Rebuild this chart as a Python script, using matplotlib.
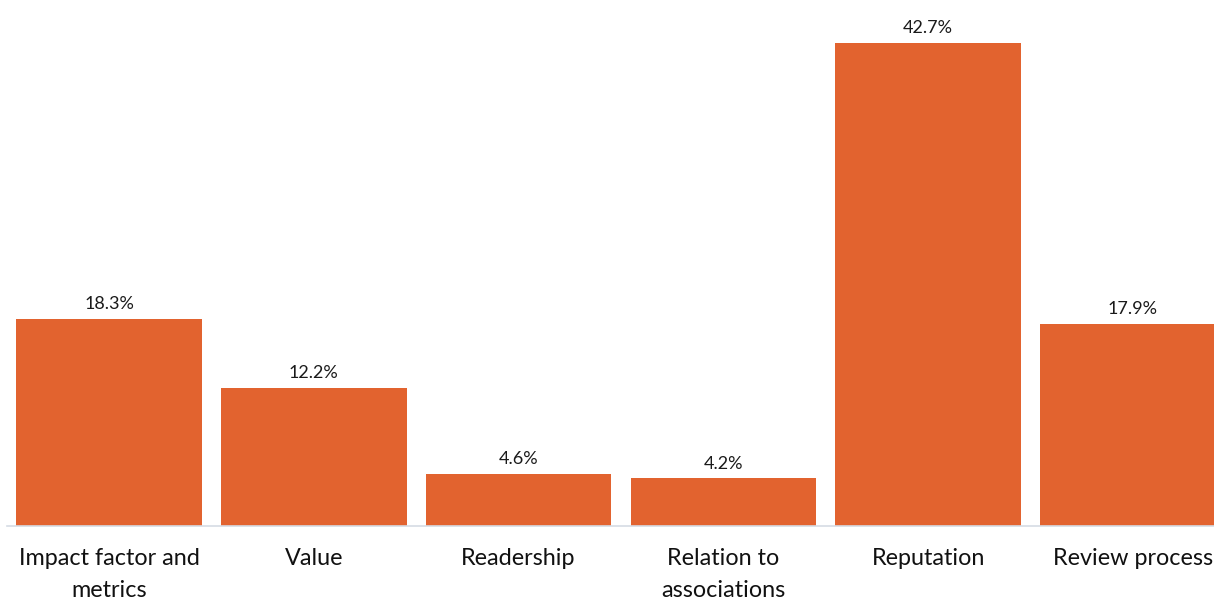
import matplotlib
matplotlib.use("Agg")
import matplotlib.pyplot as plt

categories = ["Impact factor and\nmetrics", "Value", "Readership",
              "Relation to\nassociations", "Reputation", "Review process"]
shares = [18.3, 12.2, 4.6, 4.2, 42.7, 17.9]
value_labels = ["18.3%", "12.2%", "4.6%", "4.2%", "42.7%", "17.9%"]

plt.rcParams["font.family"] = ["Lato", "DejaVu Sans"]

fig = plt.figure(figsize=(12.14, 5.99), dpi=100)
# plot area runs a little past the right edge so the last bar is cut off
ax = fig.add_axes([6.6 / 1214, 73 / 599, 1228.8 / 1214, 526 / 599])

x = list(range(len(categories)))
bars = ax.bar(x, shares, width=0.907, color="#E2632F", zorder=2)

ax.set_xlim(-0.5, len(categories) - 0.5)
ax.set_ylim(0, 42.7 * 526 / 483)

for rect, lab in zip(bars, value_labels):
    ax.annotate(lab, (rect.get_x() + rect.get_width() / 2, rect.get_height()),
                xytext=(0, 5), textcoords="offset points",
                ha="center", va="bottom", fontsize=13, color="#1a1a1a")

ax.set_xticks(x)
ax.set_xticklabels(categories, fontsize=16.8, color="#111111", linespacing=1.62)
ax.tick_params(axis="x", length=0, pad=16)
ax.set_yticks([])

for side in ("top", "right", "left"):
    ax.spines[side].set_visible(False)
ax.spines["bottom"].set_color("#D5DCE4")
ax.spines["bottom"].set_linewidth(1.2)

fig.savefig("out.png", dpi=100)
